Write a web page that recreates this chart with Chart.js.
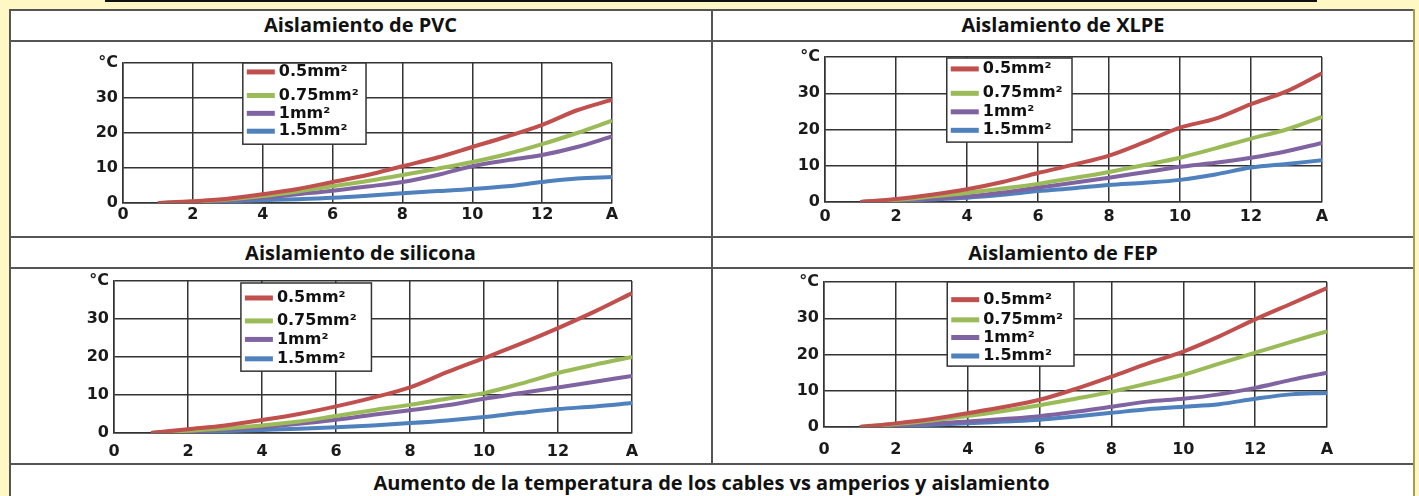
<!DOCTYPE html>
<html>
<head>
<meta charset="utf-8">
<script src="https://cdn.jsdelivr.net/npm/chart.js@4.4.0/dist/chart.umd.min.js"></script>
<style>
  body { margin: 0; background: #fff8c4; width: 1419px; height: 496px; overflow: hidden; position: relative; font-family: "Open Sans", sans-serif; }
  .abs { position: absolute; }
  .hline { position: absolute; height: 2px; background: #555; }
  .vline { position: absolute; width: 2px; background: #555; }
  .head { position: absolute; text-align: center; font-weight: bold; font-size: 20px; line-height: 26px; color: #111; }
  canvas { position: absolute; }
</style>
</head>
<body>
<div class="abs" style="left:105px;top:0;width:1212px;height:2px;background:#111"></div>
<div class="abs" style="left:9px;top:9px;width:1405px;height:500px;background:#fff"></div>
<div class="hline" style="left:9px;top:9px;width:1406px"></div>
<div class="hline" style="left:9px;top:40px;width:1406px"></div>
<div class="hline" style="left:9px;top:236px;width:1406px"></div>
<div class="hline" style="left:9px;top:267px;width:1406px"></div>
<div class="hline" style="left:9px;top:463px;width:1406px"></div>
<div class="vline" style="left:9px;top:9px;height:500px"></div>
<div class="vline" style="left:1413px;top:9px;height:500px;background:#a89a50"></div>
<div class="vline" style="left:711px;top:9px;height:455px"></div>

<div class="head" style="left:9px;top:12px;width:703px">Aislamiento de PVC</div>
<div class="head" style="left:712px;top:12px;width:702px">Aislamiento de XLPE</div>
<div class="head" style="left:9px;top:240px;width:703px">Aislamiento de silicona</div>
<div class="head" style="left:712px;top:240px;width:702px">Aislamiento de FEP</div>
<div class="head" style="left:9px;top:470px;width:1405px">Aumento de la temperatura de los cables vs amperios y aislamiento</div>

<canvas id="pvc" width="574" height="188" style="left:68px;top:43px"></canvas>
<canvas id="xlpe" width="582" height="193" style="left:770px;top:37px"></canvas>
<canvas id="silicona" width="603" height="200" style="left:59px;top:261px"></canvas>
<canvas id="fep" width="588" height="198" style="left:769px;top:262px"></canvas>

<script>
// corriente (A) en el eje x
var amps = [1, 2, 3, 4, 5, 6, 7, 8, 9, 10, 11, 12, 13, 14];
var labels = ['0.5mm²', '0.75mm²', '1mm²', '1.5mm²'];
var colors = ['#c0504d', '#9bbb59', '#8064a2', '#4f81bd'];

// PVC
var pvc05  = [0, 0.5, 1.2, 2.5, 4, 6, 8, 10.5, 13, 16, 19, 22.3, 26.5, 29.5];
var pvc075 = [0, 0.4, 1, 2, 3.3, 4.8, 6.3, 8, 9.8, 11.7, 14, 16.8, 20, 23.5];
var pvc1   = [0, 0.3, 0.8, 1.5, 2.5, 3.5, 4.7, 6, 8, 10.5, 12.2, 13.7, 16, 19];
var pvc15  = [0, 0.2, 0.5, 0.8, 1.1, 1.5, 2.1, 2.8, 3.4, 4, 4.8, 6, 7, 7.4];

// XLPE
var xlpe05  = [0, 0.8, 2, 3.5, 5.5, 8, 10.3, 12.8, 16.5, 20.5, 23, 27, 30.5, 35.5];
var xlpe075 = [0, 0.6, 1.5, 2.5, 3.7, 5, 6.6, 8.3, 10.2, 12.2, 14.8, 17.5, 20, 23.5];
var xlpe1   = [0, 0.4, 0.9, 1.5, 2.6, 4, 5.3, 6.7, 8.2, 9.7, 10.8, 12.2, 14, 16.3];
var xlpe15  = [0, 0.3, 0.7, 1.2, 2, 3, 3.8, 4.7, 5.3, 6.1, 7.6, 9.5, 10.5, 11.5];

// silicona
var sil05  = [0, 1, 2, 3.4, 5, 7, 9.3, 12, 16, 19.7, 23.5, 27.6, 32, 36.8];
var sil075 = [0, 0.6, 1.2, 2, 3, 4.5, 6, 7.4, 9, 10.5, 13, 15.8, 18, 20];
var sil1   = [0, 0.4, 0.9, 1.5, 2.4, 3.5, 4.8, 6, 7.3, 9, 10.5, 12, 13.5, 15];
var sil15  = [0, 0.2, 0.5, 0.8, 1.1, 1.5, 2, 2.6, 3.3, 4.2, 5.3, 6.3, 7, 7.9];

// FEP
var fep05  = [0, 1, 2.2, 3.8, 5.5, 7.5, 10.5, 13.9, 17.5, 20.8, 25, 29.7, 34, 38.3];
var fep075 = [0, 0.8, 1.8, 3, 4.4, 6, 7.8, 9.7, 12, 14.4, 17.5, 20.5, 23.5, 26.4];
var fep1   = [0, 0.5, 1, 1.5, 2.2, 3, 4.2, 5.6, 7, 7.8, 9, 10.8, 13, 15];
var fep15  = [0, 0.3, 0.6, 1, 1.5, 2, 2.9, 3.9, 4.9, 5.6, 6.3, 7.8, 9, 9.4];

Chart.defaults.font.family = '"DejaVu Sans", sans-serif';
Chart.defaults.font.size = 16;
Chart.defaults.font.weight = 'bold';
Chart.defaults.color = '#1a1a1a';

// leyenda en caja dentro del area del grafico
var boxLegend = {
    id: 'boxLegend',
    afterDraw: function (chart) {
        var o = chart.options.plugins.boxLegend;
        var a = chart.chartArea;
        var ctx = chart.ctx;
        var w = a.right - a.left;
        var x = a.left + w * 0.245;
        var bw = w * 0.252;
        var y = a.top + o.top;
        var bh = (a.bottom - a.top) * 0.58;
        ctx.save();
        ctx.fillStyle = '#fff';
        ctx.fillRect(x, y, bw, bh);
        ctx.strokeStyle = '#333';
        ctx.lineWidth = 1.5;
        ctx.strokeRect(x, y, bw, bh);
        ctx.font = 'bold 16px "DejaVu Sans"';
        ctx.textBaseline = 'middle';
        chart.data.datasets.forEach(function (ds, i) {
            var ry = y + bh * o.rows[i];
            ctx.strokeStyle = ds.borderColor;
            ctx.lineWidth = 5;
            ctx.beginPath();
            ctx.moveTo(x + 4, ry);
            ctx.lineTo(x + 32, ry);
            ctx.stroke();
            ctx.fillStyle = '#111';
            ctx.fillText(ds.label, x + 36, ry);
        });
        ctx.restore();
    }
};

function makeChart(id, series, legendTop, rows, xPad, xHeight) {
    var datasets = series.map(function (vals, i) {
        return {
            label: labels[i],
            data: amps.map(function (a, j) { return { x: a, y: vals[j] }; }),
            borderColor: colors[i],
            borderWidth: 4,
            pointRadius: 0,
            cubicInterpolationMode: 'monotone',
            fill: false
        };
    });
    return new Chart(document.getElementById(id).getContext('2d'), {
        type: 'line',
        data: { datasets: datasets },
        plugins: [boxLegend],
        options: {
            responsive: false,
            animation: false,
            layout: { padding: { top: 20, right: 30, left: 0, bottom: 0 } },
            plugins: {
                legend: { display: false },
                tooltip: { enabled: false },
                boxLegend: { top: legendTop, rows: rows }
            },
            scales: {
                x: {
                    type: 'linear', min: 0, max: 14,
                    ticks: { stepSize: 2, padding: xPad, callback: function (v) { return v === 14 ? 'A' : v; } },
                    grid: { color: '#333', lineWidth: 1.5, drawTicks: false },
                    border: { color: '#333', width: 1.5 },
                    afterFit: function (s) { s.height = xHeight; }
                },
                y: {
                    min: 0, max: 40,
                    ticks: { stepSize: 10, padding: 5, callback: function (v) { return v === 40 ? '°C' : v; } },
                    grid: { color: '#333', lineWidth: 1.5, drawTicks: false },
                    border: { color: '#333', width: 1.5 },
                    afterFit: function (s) { s.width = 55; }
                }
            }
        }
    });
}

makeChart('pvc', [pvc05, pvc075, pvc1, pvc15], 0, [0.11, 0.40, 0.62, 0.84], 2, 28);
makeChart('xlpe', [xlpe05, xlpe075, xlpe1, xlpe15], 1, [0.13, 0.42, 0.64, 0.86], 5, 28);
makeChart('silicona', [sil05, sil075, sil1, sil15], 2, [0.17, 0.43, 0.64, 0.86], 9, 28);
makeChart('fep', [fep05, fep075, fep1, fep15], 0, [0.21, 0.45, 0.66, 0.88], 13, 33);
</script>
</body>
</html>
